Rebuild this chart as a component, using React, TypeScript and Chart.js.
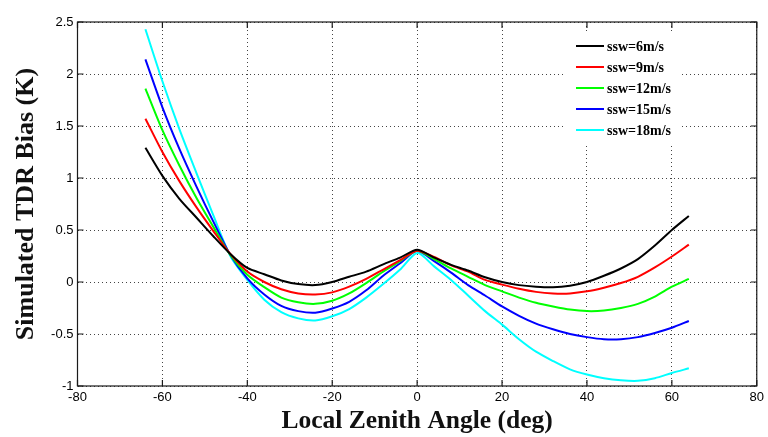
import React, { useEffect, useRef } from "react";
import { Chart, registerables } from "chart.js";

Chart.register(...registerables);

const angles = [-64, -60, -56, -52, -48, -44, -40, -36, -32, -28, -24, -20, -16, -12, -8, -4, 0, 4, 8, 12, 16, 20, 24, 28, 32, 36, 40, 44, 48, 52, 56, 60, 64];

const ssw6 = [1.29, 1.02, 0.80, 0.62, 0.44, 0.27, 0.135, 0.075, 0.015, -0.02, -0.03, 0.0, 0.05, 0.10, 0.17, 0.235, 0.31, 0.235, 0.165, 0.11, 0.045, 0.0, -0.03, -0.045, -0.05, -0.035, 0.0, 0.06, 0.13, 0.22, 0.35, 0.5, 0.635];
const ssw9 = [1.57, 1.25, 0.97, 0.72, 0.49, 0.27, 0.10, 0.0, -0.07, -0.11, -0.12, -0.10, -0.045, 0.03, 0.12, 0.21, 0.30, 0.24, 0.16, 0.10, 0.02, -0.025, -0.065, -0.095, -0.11, -0.11, -0.09, -0.055, -0.01, 0.05, 0.14, 0.245, 0.36];
const ssw12 = [1.86, 1.46, 1.12, 0.81, 0.53, 0.26, 0.07, -0.05, -0.15, -0.195, -0.21, -0.18, -0.11, -0.01, 0.10, 0.20, 0.30, 0.22, 0.13, 0.05, -0.03, -0.09, -0.15, -0.20, -0.235, -0.265, -0.28, -0.275, -0.25, -0.21, -0.14, -0.045, 0.03];
const ssw15 = [2.14, 1.68, 1.28, 0.92, 0.58, 0.26, 0.035, -0.12, -0.23, -0.28, -0.295, -0.255, -0.19, -0.08, 0.06, 0.18, 0.30, 0.20, 0.09, -0.03, -0.13, -0.235, -0.325, -0.40, -0.455, -0.50, -0.53, -0.55, -0.55, -0.53, -0.49, -0.44, -0.375];
const ssw18 = [2.43, 1.93, 1.47, 1.05, 0.64, 0.25, 0.02, -0.17, -0.29, -0.35, -0.37, -0.33, -0.26, -0.15, -0.02, 0.12, 0.28, 0.15, 0.02, -0.13, -0.28, -0.41, -0.55, -0.67, -0.76, -0.84, -0.89, -0.925, -0.945, -0.95, -0.925, -0.875, -0.83];

const seriesLabels = ["ssw=6m/s", "ssw=9m/s", "ssw=12m/s", "ssw=15m/s", "ssw=18m/s"];
const seriesColors = ["#000000", "#ff0000", "#00ff00", "#0000ff", "#00ffff"];
const seriesValues = [ssw6, ssw9, ssw12, ssw15, ssw18];

const xTicks = [-80, -60, -40, -20, 0, 20, 40, 60, 80];
const yTicks = [-1, -0.5, 0, 0.5, 1, 1.5, 2, 2.5];

const xTitle = "Local Zenith Angle (deg)";
const yTitle = "Simulated TDR Bias (K)";

const framePlugin = {
  id: "frameAndLegend",
  afterDraw(chart: any) {
    const { ctx, chartArea, scales } = chart;
    const { left, right, top, bottom } = chartArea;
    const xs = scales.x;
    const ys = scales.y;
    ctx.save();
    ctx.strokeStyle = "#1a1a1a";
    ctx.lineWidth = 1.2;
    ctx.strokeRect(left, top, right - left, bottom - top);
    const tl = 6;
    ctx.beginPath();
    xTicks.forEach((v) => {
      const px = xs.getPixelForValue(v);
      ctx.moveTo(px, bottom);
      ctx.lineTo(px, bottom - tl);
      ctx.moveTo(px, top);
      ctx.lineTo(px, top + tl);
    });
    yTicks.forEach((v) => {
      const py = ys.getPixelForValue(v);
      ctx.moveTo(left, py);
      ctx.lineTo(left + tl, py);
      ctx.moveTo(right, py);
      ctx.lineTo(right - tl, py);
    });
    ctx.stroke();

    // legend
    const lx = 565;
    const ly = 32;
    ctx.fillStyle = "#ffffff";
    ctx.fillRect(lx, ly, 115, 114);
    ctx.font = "bold 14px 'Liberation Serif', 'Times New Roman', serif";
    ctx.textBaseline = "middle";
    chart.data.datasets.forEach((ds: any, i: number) => {
      const yy = 46 + i * 21;
      ctx.strokeStyle = ds.borderColor;
      ctx.lineWidth = 2;
      ctx.beginPath();
      ctx.moveTo(576, yy);
      ctx.lineTo(604, yy);
      ctx.stroke();
      ctx.fillStyle = "#000";
      ctx.fillText(ds.label, 607, yy + 1);
    });
    ctx.restore();
  },
};

export default function App() {
  const ref = useRef<HTMLCanvasElement>(null);

  useEffect(() => {
    if (!ref.current) return;
    const datasets = seriesValues.map((vals, i) => ({
      label: seriesLabels[i],
      data: angles.map((a, j) => ({ x: a, y: vals[j] })),
      borderColor: seriesColors[i],
      backgroundColor: seriesColors[i],
      borderWidth: 2,
      pointRadius: 0,
      tension: 0.25,
      fill: false,
    }));
    const chart = new Chart(ref.current, {
      type: "line",
      data: { datasets },
      plugins: [framePlugin],
      options: {
        responsive: false,
        animation: false,
        devicePixelRatio: 1,
        layout: { padding: { left: 0, right: 5.5, top: 22, bottom: 0 } },
        plugins: { legend: { display: false }, tooltip: { enabled: false } },
        scales: {
          x: {
            type: "linear",
            min: -80,
            max: 80,
            afterFit: (s: any) => {
              s.height = 51;
            },
            afterBuildTicks: (s: any) => {
              s.ticks = xTicks.map((v) => ({ value: v }));
            },
            ticks: {
              color: "#000",
              padding: 4,
              font: { family: "'Liberation Sans', Arial, sans-serif", size: 13 },
              callback: (v: any) => String(v),
            },
            grid: { color: "#444", lineWidth: 1, drawTicks: false },
            border: { display: false, dash: [1, 3] },
            title: {
              display: true,
              text: xTitle,
              color: "#111",
              padding: { top: 0, bottom: 0 },
              font: { family: "'Liberation Serif', 'Times New Roman', serif", size: 25.5, weight: "bold", lineHeight: 1.2 },
            },
          },
          y: {
            type: "linear",
            min: -1,
            max: 2.5,
            afterFit: (s: any) => {
              s.width = 77.5;
            },
            afterBuildTicks: (s: any) => {
              s.ticks = yTicks.map((v) => ({ value: v }));
            },
            ticks: {
              color: "#000",
              padding: 4,
              font: { family: "'Liberation Sans', Arial, sans-serif", size: 13 },
              callback: (v: any) => String(v),
            },
            grid: { color: "#444", lineWidth: 1, drawTicks: false },
            border: { display: false, dash: [1, 3] },
            title: {
              display: true,
              text: yTitle,
              color: "#111",
              padding: { top: 11, bottom: 0 },
              font: { family: "'Liberation Serif', 'Times New Roman', serif", size: 26, weight: "bold", lineHeight: 1.2 },
            },
          },
        },
      },
    });
    return () => chart.destroy();
  }, []);

  return (
    <div style={{ position: "absolute", left: 0, top: 0, width: 768, height: 437, background: "#fff" }}>
      <canvas ref={ref} width={768} height={437} style={{ display: "block" }} />
    </div>
  );
}
